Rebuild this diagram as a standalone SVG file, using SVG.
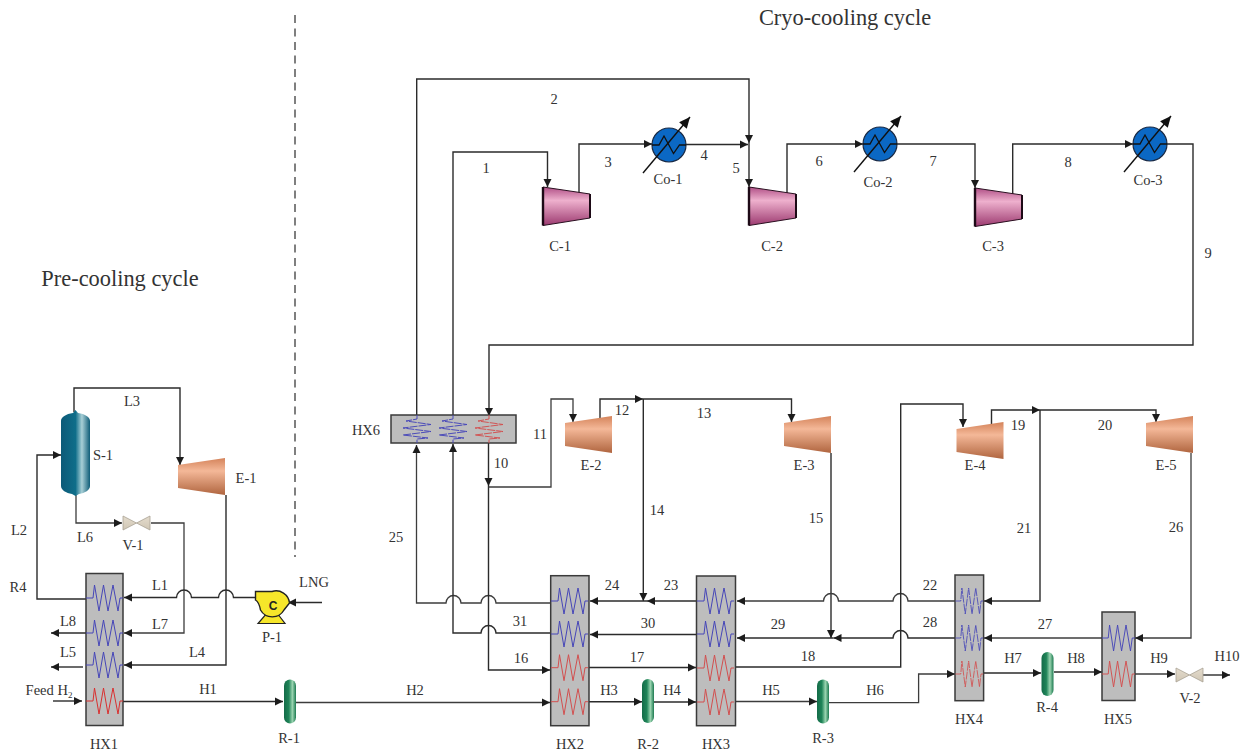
<svg xmlns="http://www.w3.org/2000/svg" width="1253" height="753" viewBox="0 0 1253 753">
<style>
text{font-family:"Liberation Serif","Times New Roman",serif;font-size:14.5px;fill:#333;text-anchor:middle}
.title{font-size:22.4px}
.c{fill:none;stroke:#2b2b2b;stroke-width:1.4}
.t{stroke:#3c3c3c;stroke-width:1.3}
.a{marker-end:url(#arr)}
.hx{fill:#bdbdbd;stroke:#3a3a3a;stroke-width:1.5}
.b{fill:none;stroke:#4646b8;stroke-width:1;vector-effect:non-scaling-stroke}
.r{fill:none;stroke:#d24f4f;stroke-width:1;vector-effect:non-scaling-stroke}
.d{stroke-width:.95;stroke-dasharray:8 1}
</style>
<defs>
<marker id="arr" markerUnits="userSpaceOnUse" markerWidth="10" markerHeight="10" refX="9" refY="5" orient="auto"><path d="M1 1 L9 5 L1 9 Z" fill="#1c1c1c"/></marker>
<marker id="arrB" markerUnits="userSpaceOnUse" markerWidth="14" markerHeight="14" refX="12" refY="6" orient="auto"><path d="M1 1 L12 6 L1 11 Z" fill="#111"/></marker>
<linearGradient id="gC" x1="0" y1="0" x2="0" y2="1"><stop offset="0" stop-color="#b04f86"/><stop offset=".35" stop-color="#eeb0cd"/><stop offset="1" stop-color="#9c3a70"/></linearGradient>
<linearGradient id="gE" x1="0" y1="0" x2="0" y2="1"><stop offset="0" stop-color="#d4835a"/><stop offset=".35" stop-color="#f4b898"/><stop offset="1" stop-color="#b0653f"/></linearGradient>
<linearGradient id="gR" x1="0" y1="0" x2="1" y2="0"><stop offset="0" stop-color="#146b48"/><stop offset=".4" stop-color="#1f8458"/><stop offset=".7" stop-color="#9ad4b0"/><stop offset="1" stop-color="#1c7a50"/></linearGradient>
<linearGradient id="gS" x1="0" y1="0" x2="1" y2="0"><stop offset="0" stop-color="#0c5a78"/><stop offset=".5" stop-color="#0f6e8a"/><stop offset=".72" stop-color="#a8cfd6"/><stop offset="1" stop-color="#0f5d78"/></linearGradient>
<linearGradient id="gV" x1="0" y1="0" x2="0" y2="1"><stop offset="0" stop-color="#e4dccd"/><stop offset="1" stop-color="#cfc6b4"/></linearGradient>
<path id="coil" d="M0 0 H7 L8.500 -13 L13 13 L17.500 -13 L22 13 L27 -13 L32 13 L34 0 H37"/>
<path id="hcoil" d="M0 -14 V-10 L-11 -8 L14 -4.500 L-14 -1 L14 2.500 L-14 6 L11 9 L0 10 V14"/>
<rect id="reactor" x="-6" y="-22" width="12" height="44" rx="6" fill="url(#gR)"/>
<g id="cool">
<circle r="17" fill="#0b68c4" stroke="#1a2a44" stroke-width="1.2"/>
<path d="M-17 0 H-10 L-5 -9 L4.500 8.500 L10.500 0 H17" fill="none" stroke="#111" stroke-width="1.3"/>
<path d="M-26 28 L21 -28" fill="none" stroke="#111" stroke-width="1.4" marker-end="url(#arrB)"/>
</g>
<g id="comp">
<polygon points="0,0 47,7 47,31 0,38.500" fill="url(#gC)" stroke="#2a1020" stroke-width="1"/>
<path d="M0 0 V38.500" stroke="#1d0a16" stroke-width="2.400"/>
<path d="M47 7 V31" stroke="#1d0a16" stroke-width="2"/>
</g>
<polygon id="exp" points="0,7 47,0 47,37 0,30" fill="url(#gE)"/>
<g id="valve"><polygon points="0,0 13.500,7 27,0 27,14 13.500,7 0,14" fill="url(#gV)" stroke="#a9a294" stroke-width=".8"/></g>
</defs>
<rect width="1253" height="753" fill="#fff"/>

<g id="connectors">
<path class="c" style="stroke-width:1.200" d="M295 15 V557" stroke-dasharray="8 5.500"/>
<path class="c a" d="M74 412 V388 H180 V465"/>
<path class="c a" d="M86 599 H37 V455 H61"/>
<path class="c a t" d="M76 495 V523 H122"/>
<path class="c a t" d="M151 523 H184 V633 H124"/>
<path class="c a" d="M255 597.500 H233.500 A7.500 7.500 0 0 0 218.500 597.500 H191.500 A7.500 7.500 0 0 0 176.500 597.500 H124"/>
<path class="c a" d="M226 495 V665 H124"/>
<path class="c a" d="M86 633 H51"/>
<path class="c a" d="M83 667 H51"/>
<path class="c a" d="M53 701 H82"/>
<path class="c a" d="M123 701.500 H283"/>
<path class="c a" d="M322 602.500 H288"/>
<path class="c a t" d="M296 702.500 H550"/>
<path class="c a t" d="M550 603 H496 A7.500 7.500 0 0 0 481 603 H461 A7.500 7.500 0 0 0 446 603 H416.500 V445"/>
<path class="c a" d="M416.700 415 V79 H749 V143"/>
<path class="c a" d="M550 633 H496 A7.500 7.500 0 0 0 481 633 H453 V444"/>
<path class="c a" d="M453 415 V152 H547.500 V187"/>
<path class="c a" d="M579 195 V144 H652"/>
<path class="c a" d="M686 144.500 H748"/>
<path class="c a" d="M749 143 V187"/>
<path class="c a" d="M787 195 V144 H863"/>
<path class="c a" d="M897 144 H975 V188"/>
<path class="c a" d="M1012.700 195 V144 H1133"/>
<path class="c a" d="M1167 144 H1193 V345 H489 V416"/>
<path class="c a" d="M488.500 443 V486"/>
<path class="c a" d="M488.500 486 V670 H550"/>
<path class="c a t" d="M488.500 487 H551 V399 H573 V422"/>
<path class="c a" d="M600 419 V399 H643"/>
<path class="c a" d="M643 399 H791.500 V422"/>
<path class="c a" d="M643.300 399 V601"/>
<path class="c a" d="M831 453 V638"/>
<path class="c a" d="M696 601 H647"/>
<path class="c a" d="M647 601 H590"/>
<path class="c a" d="M696 634.500 H590"/>
<path class="c a" d="M589 667.500 H696"/>
<path class="c a" d="M589 701.700 H642"/>
<path class="c a" d="M654 702 H696"/>
<path class="c a t" d="M955 601 H908 A7.500 7.500 0 0 0 893 601 H838.500 A7.500 7.500 0 0 0 823.500 601 H737"/>
<path class="c a" d="M955 638 H908 A7.500 7.500 0 0 0 893 638 H833.500"/>
<path class="c a" d="M833.500 638 H737"/>
<path class="c a t" d="M1102 638 H984"/>
<path class="c a" d="M736 667 H900.700 V404 H963 V427"/>
<path class="c a" d="M991.500 428 V410 H1040"/>
<path class="c a" d="M1040 410 H1156 V422"/>
<path class="c a" d="M1040 410 V601 H984"/>
<path class="c a t" d="M1191 453 V638 H1135"/>
<path class="c a t" d="M736 701.500 H817"/>
<path class="c a t" d="M829 702.700 H918.600 V674 H955"/>
<path class="c a" d="M984 673 H1041"/>
<path class="c a" d="M1054 672 H1102"/>
<path class="c a t" d="M1135 674 H1175"/>
<path class="c a" d="M1203 675 H1230"/>
</g>

<g id="S-1">
<path d="M75.500 410 L78 413 C85 414 90 417 90 421 V486 C90 490 85 493 79 494 L75.500 496 L72 494 C66 493 61 490 61 486 V421 C61 417 66 414 73 413 Z" fill="url(#gS)"/>
<text x="103" y="460">S-1</text>
</g>
<g id="E-1"><use href="#exp" x="178" y="458"/><text x="246" y="483">E-1</text></g>
<g id="V-1"><use href="#valve" x="123" y="516"/><text x="133" y="550">V-1</text></g>
<g id="P-1">
<polygon points="258,623.500 285,623.500 277,613 267,613" fill="#f6e62a" stroke="#222" stroke-width="1.200"/>
<path d="M255.500 591.500 H272 A13.500 13.500 0 0 1 289.500 603 L284 610 A13.500 13.500 0 0 1 260.500 610 Q259 602 255.500 600 Z" fill="#f6e62a" stroke="#222" stroke-width="1.400"/>
<text x="273" y="609.500" style="font-family:'Liberation Sans',sans-serif;font-size:12px;font-weight:bold;fill:#222">C</text>
<text x="272" y="642">P-1</text>
<text x="314" y="587">LNG</text>
</g>
<g id="HX1">
<rect class="hx" x="86" y="573.500" width="37" height="152"/>
<use href="#coil" class="b" x="86" y="598"/><use href="#coil" class="b" x="86" y="633"/><use href="#coil" class="b" x="86" y="665"/><use href="#coil" class="r" x="86" y="701" style="stroke:#d93030"/>
<text x="104" y="749">HX1</text>
</g>
<g id="R-1"><use href="#reactor" x="290" y="701.500"/><text x="289" y="743">R-1</text></g>
<g id="HX2">
<rect class="hx" x="550.700" y="575.700" width="38.300" height="150"/>
<use href="#coil" class="b" x="551" y="601"/><use href="#coil" class="b" x="551" y="634"/><use href="#coil" class="r" x="551" y="667.700"/><use href="#coil" class="r" x="551" y="701.700"/>
<text x="570" y="749">HX2</text>
</g>
<g id="R-2"><use href="#reactor" x="648" y="701"/><text x="648" y="749">R-2</text></g>
<g id="HX3">
<rect class="hx" x="696.500" y="576" width="39" height="149.700"/>
<use href="#coil" class="b" x="697" y="601"/><use href="#coil" class="b" x="697" y="634"/><use href="#coil" class="r" x="697" y="668"/><use href="#coil" class="r" x="697" y="702"/>
<text x="716" y="749">HX3</text>
</g>
<g id="R-3"><use href="#reactor" x="823" y="701.500"/><text x="823" y="743">R-3</text></g>
<g id="HX4">
<rect class="hx" x="955" y="575" width="28.600" height="125.700"/>
<use href="#coil" class="b d" transform="translate(955.500 601) scale(.75 1)"/><use href="#coil" class="b d" transform="translate(955.500 638) scale(.75 1)"/><use href="#coil" class="r d" transform="translate(955.500 674) scale(.75 1)"/>
<text x="969" y="724">HX4</text>
</g>
<g id="R-4"><use href="#reactor" x="1047.500" y="674"/><text x="1047" y="712">R-4</text></g>
<g id="HX5">
<rect class="hx" x="1102" y="612" width="33" height="88.500"/>
<use href="#coil" class="b" transform="translate(1102 638) scale(.89 1)"/><use href="#coil" class="r" transform="translate(1102 674) scale(.89 1)"/>
<text x="1118" y="724">HX5</text>
</g>
<g id="V-2"><use href="#valve" x="1176" y="668"/><text x="1190" y="703">V-2</text></g>
<g id="HX6">
<rect class="hx" x="391" y="415" width="125" height="28"/>
<use href="#hcoil" class="b d" x="417" y="429"/><use href="#hcoil" class="b d" x="453" y="429"/><use href="#hcoil" class="r d" x="489" y="429"/>
<text x="366" y="435">HX6</text>
</g>
<g id="C-1"><use href="#comp" x="543" y="187"/><text x="560" y="251">C-1</text></g>
<g id="C-2"><use href="#comp" x="749" y="187"/><text x="772" y="251">C-2</text></g>
<g id="C-3"><use href="#comp" x="975" y="188"/><text x="993" y="251">C-3</text></g>
<g id="Co-1"><use href="#cool" x="669" y="145"/><text x="668" y="184">Co-1</text></g>
<g id="Co-2"><use href="#cool" x="880" y="144"/><text x="878" y="187">Co-2</text></g>
<g id="Co-3"><use href="#cool" x="1150" y="144"/><text x="1148" y="185">Co-3</text></g>
<g id="E-2"><use href="#exp" x="565" y="416"/><text x="591" y="470">E-2</text></g>
<g id="E-3"><use href="#exp" x="784" y="416"/><text x="804" y="470">E-3</text></g>
<g id="E-4"><use href="#exp" x="956.500" y="422"/><text x="975" y="470">E-4</text></g>
<g id="E-5"><use href="#exp" x="1146" y="416"/><text x="1166" y="470">E-5</text></g>

<g id="labels">
<text class="title" x="845" y="25">Cryo-cooling cycle</text>
<text class="title" x="120" y="286">Pre-cooling cycle</text>
<text x="132" y="406">L3</text><text x="19" y="535">L2</text><text x="85" y="542">L6</text><text x="18" y="592">R4</text>
<text x="160" y="590">L1</text><text x="160" y="629">L7</text><text x="68" y="626">L8</text><text x="68" y="657">L5</text><text x="197" y="657">L4</text>
<text x="49" y="695">Feed H<tspan dy="3" style="font-size:9px">2</tspan></text>
<text x="208" y="694">H1</text><text x="415" y="695">H2</text><text x="609" y="695">H3</text><text x="672" y="695">H4</text><text x="771" y="695">H5</text><text x="875" y="695">H6</text>
<text x="1013" y="663">H7</text><text x="1076" y="663">H8</text><text x="1159" y="663">H9</text><text x="1227" y="661">H10</text>
<text x="486" y="173">1</text><text x="554" y="104">2</text><text x="608" y="167">3</text><text x="704" y="160">4</text><text x="736" y="173">5</text><text x="819" y="166">6</text><text x="933" y="166">7</text><text x="1068" y="167">8</text><text x="1208" y="258">9</text>
<text x="501" y="468">10</text><text x="540" y="439">11</text><text x="622" y="415">12</text><text x="704" y="418">13</text><text x="657" y="515">14</text><text x="816" y="523">15</text><text x="521" y="663">16</text><text x="637" y="662">17</text><text x="808" y="661">18</text>
<text x="1018" y="430">19</text><text x="1105" y="430">20</text><text x="1024" y="533">21</text><text x="930" y="590">22</text><text x="671" y="590">23</text><text x="612" y="590">24</text><text x="396" y="542">25</text><text x="1176" y="532">26</text>
<text x="1045" y="629">27</text><text x="930" y="627">28</text><text x="778" y="629">29</text><text x="648" y="628">30</text><text x="520" y="626">31</text>
</g>
</svg>
